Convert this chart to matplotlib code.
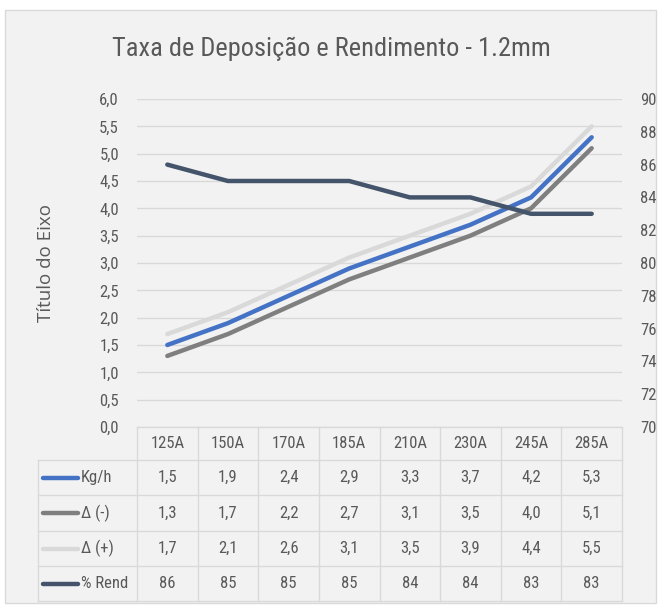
import matplotlib
matplotlib.use("Agg")
import matplotlib.pyplot as plt
from matplotlib.patches import Rectangle

# data
categories = ["125A", "150A", "170A", "185A", "210A", "230A", "245A", "285A"]
kg_h = [1.5, 1.9, 2.4, 2.9, 3.3, 3.7, 4.2, 5.3]
delta_minus = [1.3, 1.7, 2.2, 2.7, 3.1, 3.5, 4.0, 5.1]
delta_plus = [1.7, 2.1, 2.6, 3.1, 3.5, 3.9, 4.4, 5.5]
rend = [86, 85, 85, 85, 84, 84, 83, 83]
series_names = ["Kg/h", "\u0394 (-)", "\u0394 (+)", "% Rend"]
title = "Taxa de Deposição e Rendimento - 1.2mm"

plt.rcParams["font.family"] = ["Roboto Condensed", "DejaVu Sans"]
plt.rcParams["font.weight"] = "normal"

c_blue = "#4472C4"
c_gray = "#7F7F7F"
c_light = "#D9D9D9"
c_dark = "#44546A"
c_text = "#595959"
bg = "#F2F2F2"
fs = 12

W, H = 661, 606
fig = plt.figure(figsize=(W / 100, H / 100), dpi=100)
fig.patch.set_facecolor("white")

# background axes in pixel coordinates
bgax = fig.add_axes([0, 0, 1, 1])
bgax.set_xlim(0, W)
bgax.set_ylim(H, 0)
bgax.axis("off")
bgax.add_patch(Rectangle((5, 10), 651, 593, facecolor=bg, edgecolor="#D9D9D9", lw=1))

# plot area
left, right, top, bottom = 137, 622, 99, 427
ax = fig.add_axes([left / W, 1 - bottom / H, (right - left) / W, (bottom - top) / H])
ax.patch.set_alpha(0)
x = list(range(len(categories)))
ax.plot(x, delta_plus, color=c_light, lw=3.2, solid_capstyle="round", zorder=3)
ax.plot(x, kg_h, color=c_blue, lw=3.2, solid_capstyle="round", zorder=4)
ax.plot(x, delta_minus, color=c_gray, lw=3.2, solid_capstyle="round", zorder=3)
ax.set_xlim(-0.5, len(categories) - 0.5)
ax.set_ylim(0, 6)
yt = [i * 0.5 for i in range(13)]
ax.set_yticks(yt)
ax.set_yticklabels([f"{v:.1f}".replace(".", ",") for v in yt])
ax.set_xticks([])
ax.grid(axis="y", color="#D9D9D9", lw=1)
ax.set_axisbelow(True)
for s in ax.spines.values():
    s.set_visible(False)
ax.tick_params(axis="y", length=0, pad=13, labelsize=fs, labelcolor=c_text)
ax.set_ylabel("Título do Eixo", family="Open Sans", fontweight="normal", fontsize=13.5,
              color=c_text, labelpad=32)

ax2 = ax.twinx()
ax2.plot(x, rend, color=c_dark, lw=3.2, solid_capstyle="round", zorder=5)
ax2.set_ylim(70, 90)
ax2.set_yticks(range(70, 91, 2))
for s in ax2.spines.values():
    s.set_visible(False)
ax2.tick_params(axis="y", length=0, pad=13, labelsize=fs, labelcolor=c_text)

bgax.text(331, 49, title, ha="center", va="center", fontsize=19, color=c_text)

# data table
col_w = (right - left) / len(categories)
row_edges = [427, 460, 495, 531, 566, 601]
label_left = 38
gc = "#D9D9D9"
bgax.plot([left, right], [row_edges[0]] * 2, color=gc, lw=1)
for yv in row_edges[1:]:
    bgax.plot([label_left, right], [yv, yv], color=gc, lw=1)
for i in range(len(categories) + 1):
    xv = left + i * col_w
    bgax.plot([xv, xv], [row_edges[0], row_edges[-1]], color=gc, lw=1)
bgax.plot([label_left, label_left], [row_edges[1], row_edges[-1]], color=gc, lw=1)

for i, c in enumerate(categories):
    bgax.text(left + (i + 0.5) * col_w, (row_edges[0] + row_edges[1]) / 2, c,
              ha="center", va="center", fontsize=fs, color=c_text)

rows = [kg_h, delta_minus, delta_plus, rend]
colors = [c_blue, c_gray, c_light, c_dark]
for r, (vals, name, col) in enumerate(zip(rows, series_names, colors)):
    yc = (row_edges[r + 1] + row_edges[r + 2]) / 2
    bgax.plot([43, 78], [yc, yc], color=col, lw=3.2, solid_capstyle="round")
    bgax.text(81, yc, name, ha="left", va="center", fontsize=fs, color=c_text)
    for i, v in enumerate(vals):
        s = f"{v:.1f}".replace(".", ",") if r < 3 else f"{v:d}"
        bgax.text(left + (i + 0.5) * col_w, yc, s, ha="center", va="center",
                  fontsize=fs, color=c_text)

fig.savefig("out.png", dpi=100, facecolor="white")
